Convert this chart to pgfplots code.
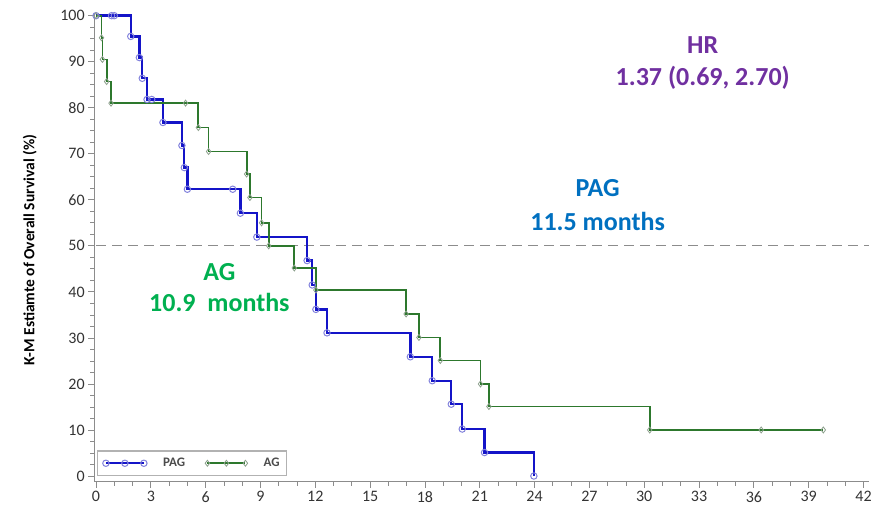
\documentclass[border=0pt]{standalone}
\usepackage{pgfplots}
\pgfplotsset{compat=1.18}
\usepackage{fontspec}
\setmainfont{Carlito}
\definecolor{pagline}{RGB}{20,20,200}
\definecolor{pagmark}{RGB}{130,130,220}
\definecolor{agline}{RGB}{45,120,45}
\definecolor{agmark}{RGB}{140,160,140}
\definecolor{hrpurple}{RGB}{112,48,160}
\definecolor{pagtext}{RGB}{0,112,192}
\definecolor{agtext}{RGB}{0,176,80}
\definecolor{axgray}{RGB}{140,140,140}
\begin{document}
\begin{tikzpicture}
\useasboundingbox (-94.2pt,-31pt) rectangle (778.8pt,482pt);
\begin{axis}[
  at={(0,0)}, anchor=south west,
  scale only axis, width=774.8pt, height=468.6pt,
  xmin=-0.1, xmax=42.3, ymin=-1.3, ymax=100.5,
  axis x line*=bottom, axis y line*=left,
  axis line style={axgray, line width=1pt, -},
  xtick={0,3,...,42}, ytick={0,10,...,100},
  minor x tick num=2, minor y tick num=3,
  tick align=outside,
  major tick length=6pt, minor tick length=4pt,
  tick style={axgray, line width=0.8pt},
  every tick label/.append style={font=\fontsize{16}{18}\selectfont, text=black!80},
  /pgf/number format/assume math mode=true,
  ylabel={\textbf{K-M Estiamte of Overall Survival (\%)}},
  ylabel style={font=\fontsize{15.5}{17}\selectfont, at={(axis description cs:-0.083,0.495)}, anchor=center, rotate=0},
  legend style={at={(axis cs:0.05,0)}, anchor=south west, draw=black!30, line width=1.5pt,
    font=\bfseries\fontsize{13}{15}\selectfont, text=black!70, inner xsep=5pt, inner ysep=5pt,
    /tikz/every odd column/.append style={column sep=14pt},
    /tikz/every even column/.append style={column sep=18pt}},
  legend columns=2,
  legend image code/.code={\draw[#1] plot coordinates {(0pt,0pt) (19pt,0pt) (38pt,0pt)};},
  clip=false,
]
\addplot[black!45, dashed, dash pattern=on 10pt off 6pt, line width=1.2pt, forget plot] coordinates {(0,50) (42.3,50)};
\addplot[const plot, pagline, line width=2.4pt, mark=o, mark size=3.2pt,
  mark options={solid, draw=pagmark, line width=1pt}] coordinates {
(0,100) (0.85,100) (1.0,100) (1.9,95.5) (2.37,90.9) (2.53,86.4) (2.79,81.8) (3.05,81.8)
(3.66,76.8) (4.7,71.8) (4.83,67.0) (5.0,62.3) (7.48,62.3) (7.9,57.1) (8.8,51.9)
(11.55,46.8) (11.83,41.5) (12.03,36.2) (12.64,31.1) (17.2,25.9) (18.4,20.7)
(19.44,15.6) (20.04,10.2) (21.26,5.1) (23.96,0)};
\addlegendentry{PAG}
\addplot[const plot, agline, line width=1.8pt, mark=diamond, mark size=3pt,
  mark options={solid, draw=agmark, line width=0.8pt}] coordinates {
(0,100) (0.3,95.2) (0.35,90.5) (0.58,85.7) (0.82,81.0) (4.9,81.0) (5.6,75.7)
(6.16,70.5) (8.24,65.6) (8.42,60.5) (9.06,55.0) (9.45,50.0) (10.85,45.2)
(12.03,40.4) (16.97,35.2) (17.67,30.1) (18.84,25.1) (21.04,20.0) (21.5,15.1)
(30.3,10.0) (36.4,10.0) (39.8,10.0)};
\addlegendentry{AG}
\node[text=hrpurple, font=\bfseries\fontsize{26}{30}\selectfont] at (axis cs:33.2,93.6) {HR};
\node[text=hrpurple, font=\bfseries\fontsize{26}{30}\selectfont] at (axis cs:33.2,86.5) {1.37 (0.69, 2.70)};
\node[text=pagtext, font=\bfseries\fontsize{26}{30}\selectfont] at (axis cs:27.45,62.6) {PAG};
\node[text=pagtext, font=\bfseries\fontsize{26}{30}\selectfont] at (axis cs:27.45,55.4) {11.5 months};
\node[text=agtext, font=\bfseries\fontsize{26}{30}\selectfont] at (axis cs:6.75,44.3) {AG};
\node[text=agtext, font=\bfseries\fontsize{26}{30}\selectfont] at (axis cs:6.75,37.6) {10.9\ \ months};
\end{axis}
\end{tikzpicture}
\end{document}
